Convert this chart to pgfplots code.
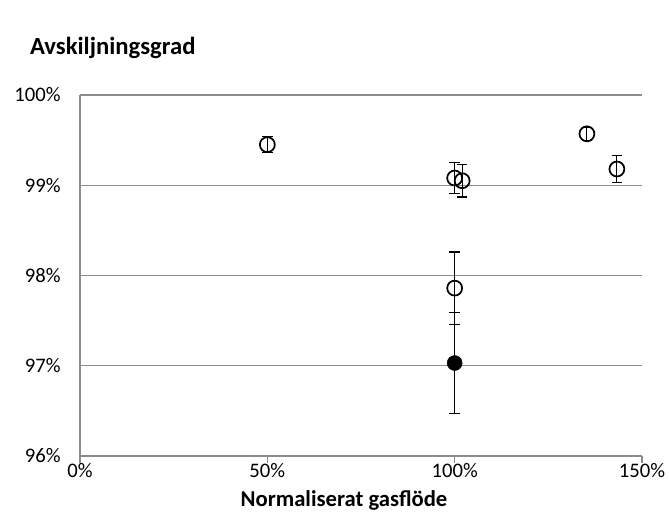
\documentclass[border=0pt]{standalone}
\usepackage{pgfplots}
\pgfplotsset{compat=1.18}
\usepackage{fontspec}
\setmainfont{Carlito}
\begin{document}
\begin{tikzpicture}
\path[use as bounding box] (0pt,0pt) rectangle (501.75pt,399pt);
\begin{axis}[
  at={(60pt,57pt)}, anchor=south west,
  scale only axis, width=421.5pt, height=270.75pt,
  xmin=0, xmax=150, ymin=96, ymax=100,
  xtick={0,50,100,150}, xticklabels={0\%,50\%,100\%,150\%},
  ytick={96,97,98,99,100}, yticklabels={96\%,97\%,98\%,99\%,100\%},
  axis x line*=bottom, axis y line*=left,
  axis line style={draw=black!45, line width=0.9pt, -},
  ymajorgrids, grid style={draw=black!45, line width=0.9pt},
  tick style={draw=black!45, line width=0.9pt},
  xtick align=outside, ytick align=outside,
  major tick length=5pt,
  ytick style={draw=none},
  tick label style={font=\fontsize{15.5}{18}\selectfont},
  xticklabel style={yshift=3pt},
  yticklabel style={xshift=-6pt},
  clip=false,
]
\addplot[only marks, mark=o, mark size=5.6pt, mark options={line width=1.3pt, black},
  error bars/.cd, y dir=both, y explicit,
  error bar style={line width=0.8pt, black}, error mark options={rotate=90, mark size=4pt, line width=0.8pt, black}]
  table[x=x, y=y, y error=e] {
x y e
50 99.45 0.09
100 99.08 0.17
102 99.05 0.18
100 97.86 0.40
135.3 99.57 0.07
143.3 99.18 0.15
};
\addplot[only marks, mark=*, mark size=5.6pt, mark options={black},
  error bars/.cd, y dir=both, y explicit,
  error bar style={line width=0.8pt, black}, error mark options={rotate=90, mark size=4pt, line width=0.8pt, black}]
  table[x=x, y=y, y error=e] {
x y e
100 97.03 0.56
};
\end{axis}
\node[anchor=west, font=\bfseries\fontsize{18.5}{22}\selectfont] at (19pt,363pt) {Avskiljningsgrad};
\node[font=\bfseries\fontsize{17}{20}\selectfont] at (258pt,24pt) {Normaliserat gasflöde};
\end{tikzpicture}
\end{document}
